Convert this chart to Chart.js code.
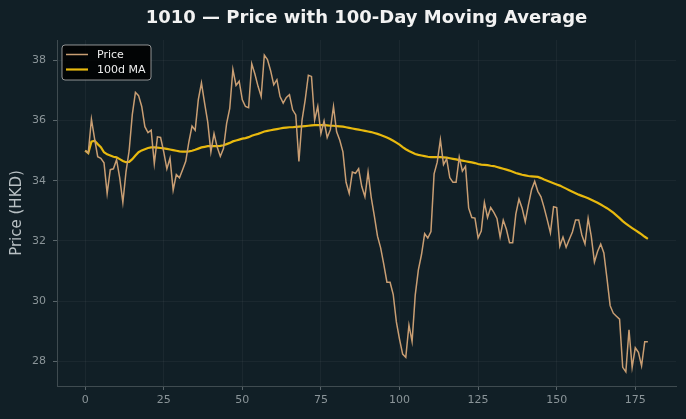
<!DOCTYPE html>
<html>
<head>
<meta charset="utf-8">
<script src="https://cdn.jsdelivr.net/npm/chart.js@4.4.1/dist/chart.umd.min.js"></script>
<style>
  html, body { margin: 0; padding: 0; background: #111f26; }
  #wrap { width: 686px; height: 419px; }
</style>
</head>
<body>
<div id="wrap"><canvas id="maChart" width="686" height="419"></canvas></div>
<script>
const days = Array.from({ length: 180 }, (_, i) => i);

const price = [
    35.0, 34.92, 36.05, 35.4, 34.8, 34.75, 34.6, 33.58, 34.37, 34.4,
    34.7, 34.1, 33.28, 34.3, 35.0, 36.2, 36.94, 36.83, 36.47, 35.8,
    35.6, 35.68, 34.57, 35.46, 35.44, 34.96, 34.4, 34.75, 33.69, 34.21,
    34.1, 34.37, 34.65, 35.29, 35.82, 35.68, 36.7, 37.25, 36.58, 35.95,
    34.96, 35.57, 35.12, 34.81, 35.07, 35.9, 36.41, 37.7, 37.17, 37.31,
    36.69, 36.47, 36.43, 37.89, 37.55, 37.14, 36.8, 38.18, 38.03, 37.66,
    37.19, 37.36, 36.8, 36.58, 36.77, 36.86, 36.36, 36.19, 34.64, 36.02,
    36.69, 37.51, 37.47, 36.02, 36.47, 35.57, 35.99, 35.44, 35.7, 36.47,
    35.63, 35.35, 34.96, 33.95, 33.58, 34.29, 34.25, 34.4, 33.81, 33.47,
    34.29, 33.45, 32.83, 32.16, 31.77, 31.22, 30.63, 30.63, 30.22, 29.31,
    28.74, 28.24, 28.13, 29.2, 28.66, 30.2, 31.04, 31.55, 32.24, 32.1,
    32.31, 34.23, 34.62, 35.37, 34.54, 34.73, 34.1, 33.95, 33.95, 34.79,
    34.32, 34.48, 33.09, 32.78, 32.76, 32.1, 32.33, 33.28, 32.78, 33.11,
    32.95, 32.75, 32.13, 32.69, 32.39, 31.94, 31.94, 32.89, 33.39, 33.09,
    32.64, 33.2, 33.7, 33.98, 33.65, 33.47, 33.11, 32.7, 32.27, 33.14,
    33.11, 31.83, 32.13, 31.79, 32.05, 32.3, 32.7, 32.7, 32.2, 31.9,
    32.75, 32.15, 31.3, 31.65, 31.9, 31.6, 30.75, 29.85, 29.6, 29.5,
    29.4, 27.8, 27.65, 29.05, 27.8, 28.45, 28.3, 27.85, 28.65, 28.65
];

const ma100 = [
    35.0, 34.92, 35.3, 35.33, 35.22, 35.12, 34.95, 34.88, 34.84, 34.8,
    34.78, 34.72, 34.66, 34.62, 34.63, 34.72, 34.84, 34.95, 35.01, 35.05,
    35.09, 35.11, 35.11, 35.1, 35.09, 35.08, 35.06, 35.04, 35.02, 35.0,
    34.98, 34.97, 34.97, 34.98, 35.0, 35.03, 35.07, 35.11, 35.13, 35.15,
    35.15, 35.15, 35.15, 35.16, 35.18, 35.22, 35.26, 35.31, 35.34, 35.37,
    35.4, 35.42, 35.45, 35.5, 35.53, 35.56, 35.6, 35.64, 35.66, 35.68,
    35.7, 35.72, 35.74, 35.76, 35.77, 35.78, 35.78, 35.79, 35.8, 35.81,
    35.82, 35.83, 35.84, 35.85, 35.85, 35.85, 35.85, 35.84, 35.83, 35.83,
    35.82, 35.81, 35.8, 35.78, 35.76, 35.74, 35.72, 35.7, 35.68, 35.66,
    35.64, 35.62, 35.59, 35.56, 35.52, 35.48, 35.44, 35.39, 35.33, 35.27,
    35.2, 35.12, 35.05, 34.99, 34.94, 34.89, 34.86, 34.84, 34.82, 34.8,
    34.79, 34.79, 34.79, 34.79, 34.78, 34.77, 34.75, 34.73, 34.71, 34.69,
    34.67, 34.65, 34.63, 34.61, 34.59, 34.56, 34.54, 34.53, 34.52, 34.5,
    34.49, 34.46, 34.43, 34.4, 34.37, 34.34, 34.3, 34.26, 34.23, 34.2,
    34.18, 34.16, 34.15, 34.14, 34.13, 34.09, 34.04, 34.0, 33.96, 33.92,
    33.88, 33.84, 33.79, 33.74, 33.69, 33.64, 33.59, 33.54, 33.5, 33.46,
    33.42, 33.37, 33.32, 33.27, 33.21, 33.15, 33.09, 33.02, 32.94, 32.85,
    32.76, 32.66, 32.58, 32.5, 32.43, 32.36, 32.29, 32.22, 32.14, 32.07
];

const xTicks = [0, 25, 50, 75, 100, 125, 150, 175];
const yTicks = [28, 30, 32, 34, 36, 38];

const priceColor = '#c99e73';
const maColor = '#e8b90e';

// background, title centred over the plot, legend box inside the plot
const bgPlugin = {
    id: 'bg',
    afterLayout(chart) {
        // matplotlib centres the title on the axes, not the figure
        chart.titleBlock.left = chart.chartArea.left;
        chart.titleBlock.right = chart.chartArea.right;
    },
    beforeDraw(chart) {
        const c = chart.ctx;
        c.save();
        c.fillStyle = '#111f26';
        c.fillRect(0, 0, chart.width, chart.height);
        c.restore();
    },
    afterDraw(chart) {
        const c = chart.ctx;
        const x = chart.chartArea.left + 5, y = chart.chartArea.top + 5;
        c.save();
        c.beginPath();
        c.roundRect(x, y, 89, 35, 3);
        c.fillStyle = 'rgba(0,0,0,0.85)';
        c.fill();
        c.strokeStyle = 'rgba(190,190,190,0.75)';
        c.lineWidth = 1;
        c.stroke();
        c.font = '11px "DejaVu Sans"';
        c.textBaseline = 'middle';
        chart.data.datasets.forEach((ds, i) => {
            const ly = y + 9.5 + i * 15;
            c.beginPath();
            c.moveTo(x + 4, ly);
            c.lineTo(x + 26, ly);
            c.strokeStyle = ds.borderColor;
            c.lineWidth = ds.borderWidth;
            c.stroke();
            c.fillStyle = '#eeeeee';
            c.fillText(ds.label, x + 35, ly + 0.5);
        });
        c.restore();
    }
};

new Chart(document.getElementById('maChart'), {
    type: 'line',
    data: {
        datasets: [
            {
                label: 'Price',
                data: days.map((d, i) => ({ x: d, y: price[i] })),
                borderColor: priceColor,
                borderWidth: 1.5,
                pointRadius: 0,
                tension: 0
            },
            {
                label: '100d MA',
                data: days.map((d, i) => ({ x: d, y: ma100[i] })),
                borderColor: maColor,
                borderWidth: 2.2,
                pointRadius: 0,
                tension: 0
            }
        ]
    },
    options: {
        responsive: false,
        animation: false,
        layout: { padding: { left: 0, right: 10, top: 0, bottom: 0 } },
        plugins: {
            legend: { display: false },
            tooltip: { enabled: false },
            title: {
                display: true,
                text: '1010 \u2014 Price with 100-Day Moving Average',
                color: '#f2f2f2',
                font: { family: 'DejaVu Sans', size: 18, weight: 'bold' },
                padding: { top: 8, bottom: 10.4 }
            }
        },
        scales: {
            x: {
                type: 'linear',
                min: -8.95,
                max: 187.95,
                afterBuildTicks: s => { s.ticks = xTicks.map(v => ({ value: v })); },
                afterFit: s => { s.height = 33; },
                ticks: {
                    color: '#8b9599',
                    font: { family: 'DejaVu Sans', size: 11 },
                    padding: 4,
                    maxRotation: 0
                },
                grid: {
                    color: 'rgba(255,255,255,0.045)',
                    tickColor: '#59656a',
                    tickLength: 4
                },
                border: { color: '#3f4b50', width: 1 }
            },
            y: {
                min: 27.18,
                max: 38.68,
                afterBuildTicks: s => { s.ticks = yTicks.map(v => ({ value: v })); },
                afterFit: s => { s.width = 57; },
                ticks: {
                    color: '#8b9599',
                    font: { family: 'DejaVu Sans', size: 11 },
                    padding: 7
                },
                grid: {
                    color: 'rgba(255,255,255,0.045)',
                    tickColor: '#59656a',
                    tickLength: 4
                },
                border: { color: '#3f4b50', width: 1 },
                title: {
                    display: true,
                    text: 'Price (HKD)',
                    color: '#b9c1c4',
                    font: { family: 'DejaVu Sans', size: 15 },
                    padding: { top: 8, bottom: 0 }
                }
            }
        }
    },
    plugins: [bgPlugin]
});
</script>
</body>
</html>
